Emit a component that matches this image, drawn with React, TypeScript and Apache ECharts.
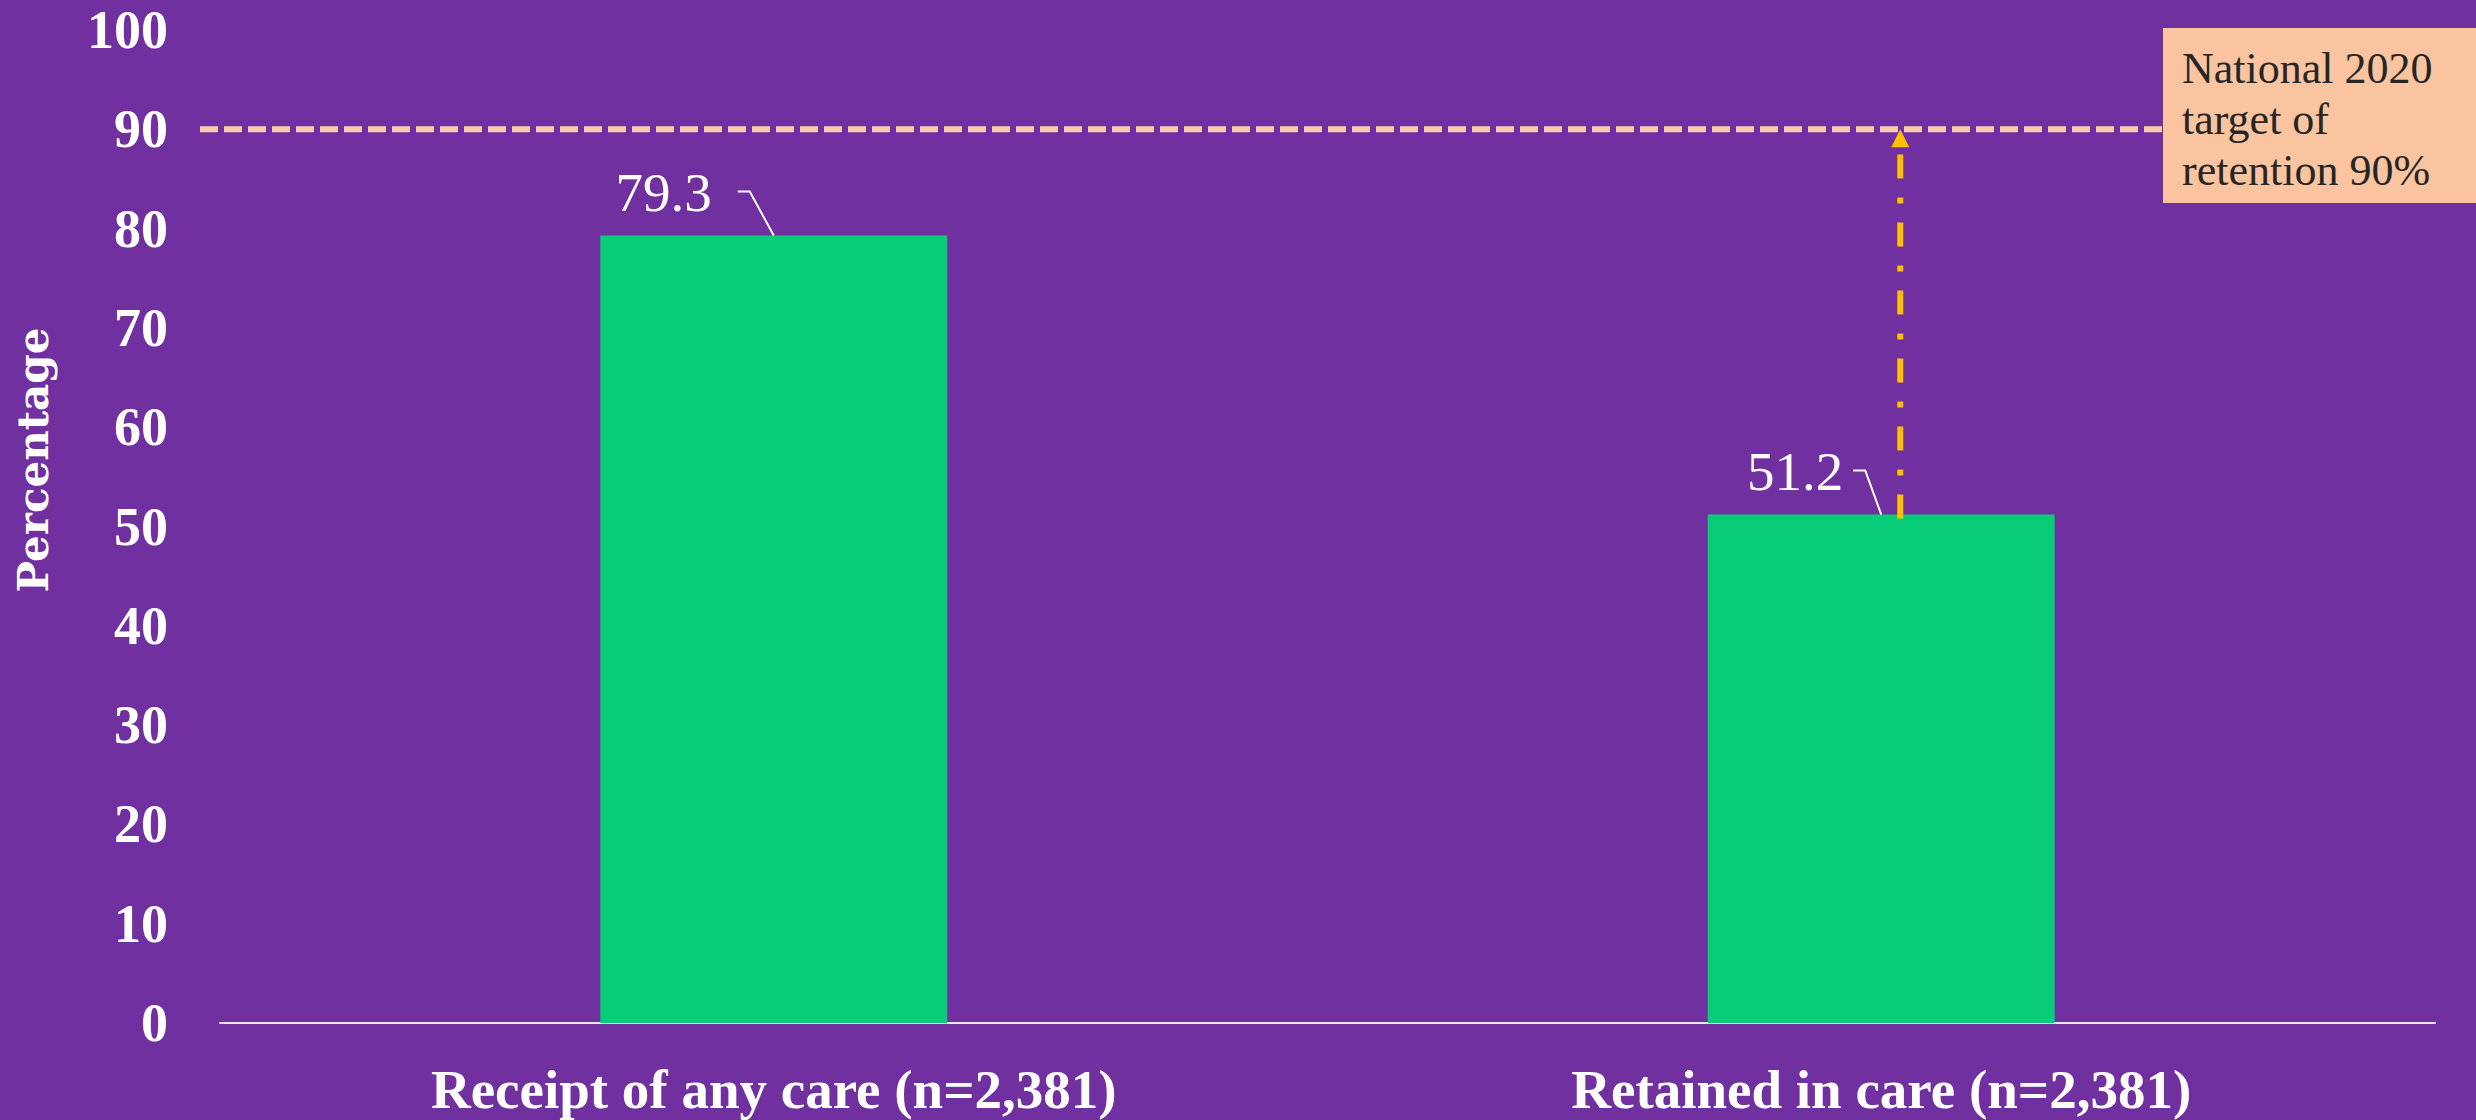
import React, { useEffect, useRef } from "react";
import * as echarts from "echarts";

const categories = ["Receipt of any care (n=2,381)", "Retained in care (n=2,381)"];
const percentages = [79.3, 51.2];
const yMin = 0;
const yMax = 100;
const yInterval = 10;
const targetValue = 90;
const targetCategoryIndex = 1;
const targetText = "National 2020\ntarget of\nretention 90%";
const axisTitle = "Percentage";

// label/leader-line layout (styling, not data)
const labelLayouts = [
  { textDx: -62, lineStart: -36, lineBend: -24 },
  { textDx: -38, lineStart: -28, lineBend: -16 },
];

const SERIF = '"Liberation Serif", serif';
const WIDE_SERIF = '"DejaVu Serif", serif';

export default function App() {
  const ref = useRef<HTMLDivElement>(null);
  useEffect(() => {
    document.body.style.margin = "0";
    const chart = echarts.init(ref.current!, undefined, { renderer: "svg" });
    const option: any = {
      animation: false,
      backgroundColor: "#7030A0",
      grid: { left: 220, right: 41, top: 30, bottom: 97, containLabel: false },
      xAxis: {
        type: "category",
        data: categories,
        axisLine: { show: true, lineStyle: { color: "#E6E6E6", width: 2 } },
        axisTick: { show: false },
        axisLabel: {
          color: "#FFFFFF",
          fontFamily: SERIF,
          fontWeight: "bold",
          fontSize: 55,
          lineHeight: 50,
          margin: 41,
        },
      },
      yAxis: {
        type: "value",
        min: yMin,
        max: yMax,
        interval: yInterval,
        axisLine: { show: false },
        axisTick: { show: false },
        splitLine: { show: false },
        axisLabel: {
          color: "#FFFFFF",
          fontFamily: SERIF,
          fontWeight: "bold",
          fontSize: 54,
          lineHeight: 44,
          margin: 52,
        },
      },
      graphic: [
        {
          type: "text",
          x: 33,
          y: 460,
          rotation: Math.PI / 2,
          style: {
            text: axisTitle,
            fill: "#FFFFFF",
            fontFamily: WIDE_SERIF,
            fontWeight: "bold",
            fontSize: 42,
            align: "center",
            verticalAlign: "middle",
          },
        },
        {
          type: "rect",
          left: 2163,
          top: 28,
          z: 10,
          shape: { width: 313, height: 175 },
          style: { fill: "#FAC4A0" },
        },
        {
          type: "text",
          left: 2182,
          top: 43,
          z: 11,
          style: {
            text: targetText,
            fill: "#262626",
            fontFamily: SERIF,
            fontSize: 44,
            lineHeight: 51,
          },
        },
      ],
      series: [
        {
          type: "bar",
          data: percentages,
          barWidth: 347,
          itemStyle: { color: "#08CC78" },
          z: 2,
        },
        {
          type: "custom",
          z: 5,
          data: percentages.map((v, i) => [i, v]),
          renderItem: (params: any, api: any) => {
            const idx = api.value(0);
            const v = api.value(1);
            const [x, y] = api.coord([idx, v]);
            const o = labelLayouts[params.dataIndex];
            return {
              type: "group",
              children: [
                {
                  type: "polyline",
                  shape: {
                    points: [
                      [x + o.lineStart, y - 44],
                      [x + o.lineBend, y - 44],
                      [x, y],
                    ],
                  },
                  style: { stroke: "#FFFFFF", lineWidth: 2, fill: null },
                },
                {
                  type: "text",
                  x: x + o.textDx,
                  y: y - 43,
                  style: {
                    text: String(v),
                    fill: "#FFFFFF",
                    fontFamily: SERIF,
                    fontSize: 55,
                    align: "right",
                    verticalAlign: "middle",
                  },
                },
              ],
            };
          },
        },
        {
          type: "custom",
          z: 6,
          data: [[targetCategoryIndex, percentages[targetCategoryIndex], targetValue]],
          renderItem: (params: any, api: any) => {
            const [cx, yBar] = api.coord([api.value(0), api.value(1)]);
            const yT = api.coord([api.value(0), api.value(2)])[1];
            const lx = cx + 19;
            const xStart = params.coordSys.x - 20;
            const xEnd = api.getWidth() - 313;
            return {
              type: "group",
              children: [
                {
                  type: "line",
                  shape: { x1: xStart, y1: yT, x2: xEnd, y2: yT },
                  style: { stroke: "#F8CBAD", lineWidth: 6, lineDash: [18, 6] },
                },
                {
                  type: "line",
                  shape: { x1: lx, y1: yBar + 4, x2: lx, y2: yT + 18 },
                  style: { stroke: "#FFC000", lineWidth: 6, lineDash: [24, 19, 6, 19] },
                },
                {
                  type: "polygon",
                  shape: {
                    points: [
                      [lx, yT],
                      [lx - 9, yT + 18],
                      [lx + 9, yT + 18],
                    ],
                  },
                  style: { fill: "#FFC000" },
                },
              ],
            };
          },
        },
      ],
    };
    chart.setOption(option);
    return () => chart.dispose();
  }, []);
  return <div ref={ref} style={{ width: 2476, height: 1120 }} />;
}
